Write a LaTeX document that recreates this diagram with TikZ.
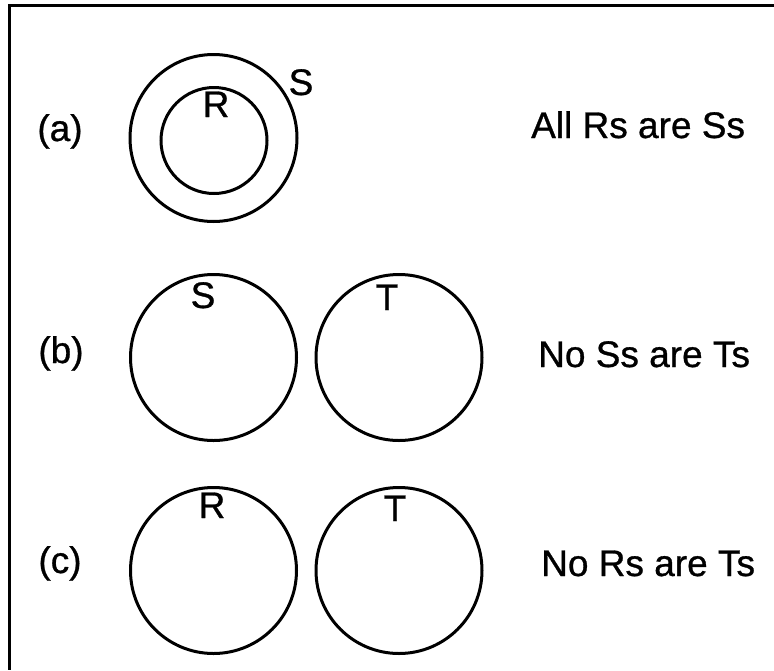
\documentclass[tikz,border=0pt]{standalone}
\usepackage{fontspec}
\setmainfont{Liberation Sans}[FakeBold=0.8]
\begin{document}
\begin{tikzpicture}[x=1pt,y=-1pt,
  set/.style={draw=black,line width=3pt,circle,inner sep=0pt,minimum size=#1},
  txt/.style={inner sep=0pt,font=\fontsize{37}{44}\selectfont},
  lbl/.style={txt,anchor=base},
  stmt/.style={txt,anchor=base west}]
\useasboundingbox (0,0) rectangle (774,670);
\fill[white] (0,0) rectangle (774,670);
% frame (top and left edges)
\coordinate (frameTR) at (774,5.5);
\coordinate (frameTL) at (9,5.5);
\coordinate (frameBL) at (9,670);
\draw[line width=3pt] (frameTR) -- (frameTL) -- (frameBL);
% (a)
\node[set=167pt] (Sa) at (213.5,138) {};
\node[set=106pt] (Ra) at (214,140.5) {};
\node[lbl] (RaL) at (216,117) {R};
\node[lbl] (SaL) at (301,95) {S};
\node[lbl] (la) at (60,141) {(a)};
\node[stmt] (ta) at (531,138) {All Rs are Ss};
% (b)
\node[set=166pt] (Sb) at (213.5,357.5) {};
\node[set=166pt] (Tb) at (399,357.5) {};
\node[lbl] (SbL) at (203,308) {S};
\node[lbl] (TbL) at (387,310) {T};
\node[lbl] (lb) at (61,363) {(b)};
\node[stmt] (tb) at (538,367) {No Ss are Ts};
% (c)
\node[set=166pt] (Rc) at (213.5,570.5) {};
\node[set=166pt] (Tc) at (399,570.5) {};
\node[lbl] (RcL) at (212,518) {R};
\node[lbl] (TcL) at (395,521) {T};
\node[lbl] (lc) at (60,573) {(c)};
\node[stmt] (tc) at (541,576) {No Rs are Ts};
\end{tikzpicture}
\end{document}
